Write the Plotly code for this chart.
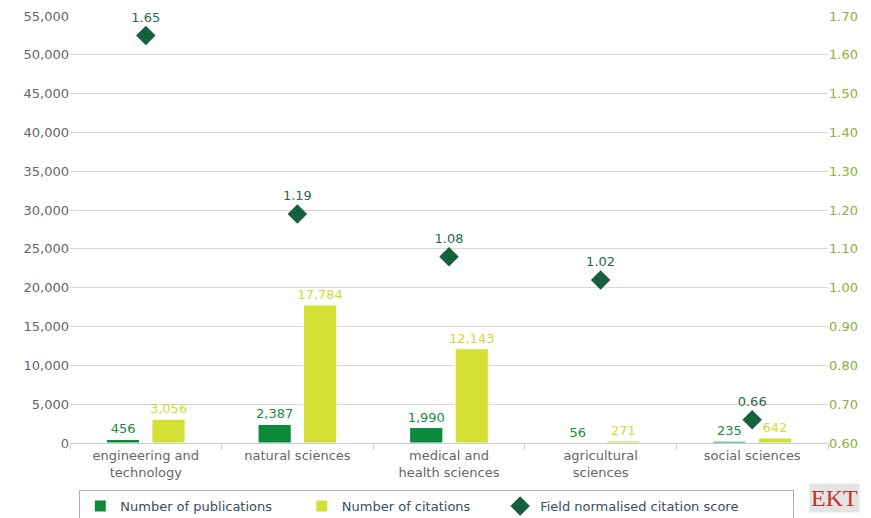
import plotly.graph_objects as go

# --- данные ---
categories = ["engineering and<br>technology", "natural sciences",
              "medical and<br>health sciences", "agricultural<br>sciences",
              "social sciences"]
publications = [456, 2387, 1990, 56, 235]
citations = [3056, 17784, 12143, 271, 642]
fncs = [1.65, 1.19, 1.08, 1.02, 0.66]

FONT = "DejaVu Sans"
PUB_COLOR = "#0b8a3c"
CIT_COLOR = "#d4df33"
FNCS_COLOR = "#17603f"
PAD = "\u00a0" * 6  # отступ между элементами легенды

fig = go.Figure()

fig.add_trace(go.Bar(
    x=categories, y=publications, name="Number of publications" + PAD,
    marker=dict(color=PUB_COLOR, line=dict(color="#ffffff", width=1)),
    text=[f"{v:,}" for v in publications], textposition="outside",
    constraintext="none",
    textfont=dict(color="#1e8a48", size=13, family=FONT),
    cliponaxis=False,
))
fig.add_trace(go.Bar(
    x=categories, y=citations, name="Number of citations" + PAD,
    marker=dict(color=CIT_COLOR, line=dict(color="#ffffff", width=1)),
    text=[f"{v:,}" for v in citations], textposition="outside",
    constraintext="none",
    textfont=dict(color="#d0da35", size=13, family=FONT),
    cliponaxis=False,
))
fig.add_trace(go.Scatter(
    x=categories, y=fncs, name="Field normalised citation score" + PAD * 2,
    mode="markers+text", yaxis="y2",
    marker=dict(symbol="diamond", size=15, color=FNCS_COLOR),
    text=[f"{v:.2f}" for v in fncs], textposition="top center",
    textfont=dict(color="#2a6a4c", size=13, family=FONT),
    cliponaxis=False,
))

fig.update_layout(
    width=871, height=518,
    margin=dict(l=70, r=43, t=16, b=75),
    paper_bgcolor="white", plot_bgcolor="white",
    font=dict(family=FONT, size=13, color="#666666"),
    barmode="group", bargap=0.4, bargroupgap=0.27,
    showlegend=True,
    legend=dict(
        orientation="h", xref="container", yref="container",
        x=0.091, xanchor="left", y=0.054, yanchor="top",
        bordercolor="#b0b0b0", borderwidth=1, bgcolor="white",
        font=dict(size=13, color="#3d4b5c", family=FONT),
        traceorder="normal", itemwidth=30,
    ),
    xaxis=dict(
        showgrid=False, showline=True, linecolor="#c0d0e0",
        ticks="outside", tickson="boundaries", ticklen=6, tickcolor="#c0d0e0",
        tickfont=dict(color="#666666", size=13), automargin=False,
    ),
    yaxis=dict(
        range=[0, 55000], dtick=5000, tickformat=",",
        showgrid=True, gridcolor="#d8d8d8", gridwidth=1,
        zeroline=False, showline=False, automargin=False,
        tickfont=dict(color="#666666", size=13),
    ),
    yaxis2=dict(
        range=[0.6, 1.7], dtick=0.1, tickformat=".2f",
        overlaying="y", side="right", showgrid=False, zeroline=False,
        tickfont=dict(color="#8fae3c", size=13), automargin=False,
    ),
)

# логотип EKT
fig.add_annotation(
    xref="paper", yref="paper", x=1.009, y=-0.094,
    xanchor="center", yanchor="top",
    text="EKT", showarrow=False,
    font=dict(family="Liberation Serif", size=24, color="#c8302c"),
    bgcolor="#e4e4e4",
)

# убираем отступы body, чтобы график занимал всё окно
fig.write_html("out.html", config={"displayModeBar": False},
               post_script="document.body.style.margin='0px';")
